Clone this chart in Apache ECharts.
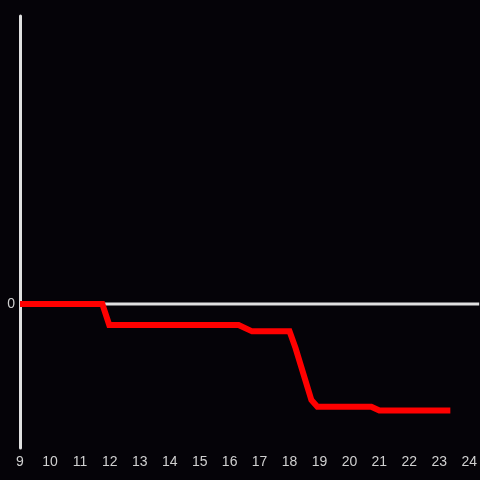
<!DOCTYPE html>
<html>
<head>
<meta charset="utf-8">
<script src="https://cdn.jsdelivr.net/npm/echarts@6/dist/echarts.min.js"></script>
<style>html,body{margin:0;padding:0;background:#050308;}#c{width:480px;height:480px;}</style>
</head>
<body>
<div id="c"></div>
<script>
var xValues = [9, 11.75, 11.98, 16.3, 16.75, 18.0, 18.2, 18.73, 18.93, 20.73, 21.0, 23.37];
var yValues = [0, 0, -0.146, -0.146, -0.19, -0.19, -0.306, -0.667, -0.713, -0.713, -0.74, -0.74];
var zeroLineX = [9, 24.333];
var zeroLineY = [0, 0];
var xTickLabels = ['9','10','11','12','13','14','15','16','17','18','19','20','21','22','23','24'];

var chart = echarts.init(document.getElementById('c'));
chart.setOption({
  backgroundColor: '#050308',
  animation: false,
  grid: {left: 20, right: 0, top: 16, bottom: 32},
  xAxis: {
    type: 'value', min: 9, max: 24.333, interval: 1,
    axisLine: {show: false}, axisTick: {show: false}, splitLine: {show: false},
    axisLabel: {
      color: '#d0d0d0', fontSize: 14, fontFamily: 'Liberation Sans', margin: 7,
      showMaxLabel: false,
      formatter: function (v) { var i = Math.round(v) - 9; return (Math.abs(v - Math.round(v)) < 1e-6 && xTickLabels[i]) ? xTickLabels[i] : ''; }
    }
  },
  yAxis: {
    type: 'value', min: -1, max: 2, interval: 1,
    axisLine: {show: true, onZero: false, lineStyle: {color: '#e0e0e0', width: 3}},
    axisTick: {show: false}, splitLine: {show: false},
    axisLabel: {color: '#d0d0d0', fontSize: 14, fontFamily: 'Liberation Sans', margin: 5,
      formatter: function (v) { return v === 0 ? '0' : ''; }}
  },
  series: [
    {type: 'line', data: zeroLineX.map(function (x, i) { return [x, zeroLineY[i]]; }),
     symbol: 'none', lineStyle: {color: '#e0e0e0', width: 3}, z: 1, silent: true},
    {type: 'line', data: xValues.map(function (x, i) { return [x, yValues[i]]; }),
     symbol: 'none', lineStyle: {color: '#ff0000', width: 6, cap: 'butt', join: 'miter'}, z: 3}
  ]
});
</script>
</body>
</html>
